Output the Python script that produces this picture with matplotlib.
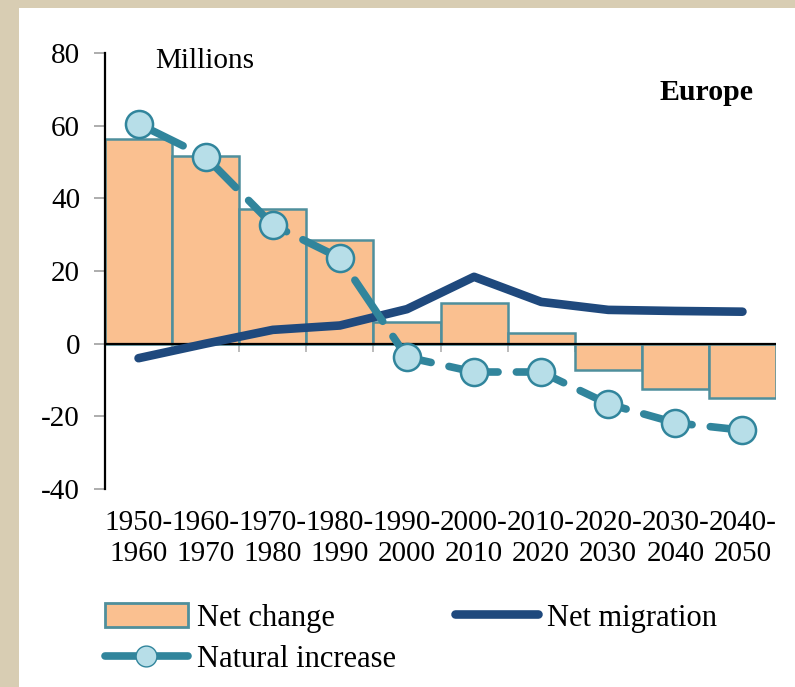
import matplotlib
matplotlib.use("Agg")
import matplotlib.pyplot as plt
from matplotlib.patches import Rectangle
from matplotlib.lines import Line2D
import numpy as np

plt.rcParams['font.family'] = ['Liberation Serif', 'DejaVu Serif']
plt.rcParams['axes.unicode_minus'] = False

periods = ["1950-\n1960", "1960-\n1970", "1970-\n1980", "1980-\n1990", "1990-\n2000",
           "2000-\n2010", "2010-\n2020", "2020-\n2030", "2030-\n2040", "2040-\n2050"]
net_change = [56.3, 51.6, 37.0, 28.5, 6.0, 11.2, 3.0, -7.2, -12.5, -15.0]
natural_increase = [60.5, 51.4, 32.7, 23.6, -3.7, -7.8, -7.8, -16.6, -21.8, -23.8]
net_migration = [-4.0, 0.0, 3.8, 5.0, 9.5, 18.4, 11.5, 9.3, 9.0, 8.8]
yticks = [-40, -20, 0, 20, 40, 60, 80]

bar_fill = "#fac090"
bar_edge = "#4f8f9c"
nat_col = "#31859c"
nat_face = "#b7dee8"
mig_col = "#1f497d"
FS = 21

fig = plt.figure(figsize=(7.95, 6.87), dpi=100)
fig.patch.set_facecolor("#d8cdb3")
fig.patches.append(Rectangle((19/795, 0), 1 - 19/795, 1 - 8/687, transform=fig.transFigure,
                             facecolor="white", edgecolor="none", zorder=-10))

ax = fig.add_axes([105/795, 1 - 489/687, 671/795, 436/687])
ax.set_facecolor("none")
x = np.arange(len(periods))

ax.bar(x, net_change, width=1.0, color=bar_fill, edgecolor=bar_edge, linewidth=1.8, zorder=2)
ax.axhline(0, color="black", lw=1.6, zorder=3)
# category boundary ticks below the zero line
bounds = np.arange(len(periods) + 1) - 0.5
ax.vlines(bounds[1:-1], -2.2, 0, color="#b0b0b0", lw=1.2, zorder=1)

ax.plot(x, net_migration, color=mig_col, lw=6.2, solid_capstyle="round",
        solid_joinstyle="round", zorder=4)
ax.plot(x, natural_increase, color=nat_col, lw=5.5, dashes=(6.5, 2.4), dash_capstyle="round",
        marker="o", markersize=19.5, markerfacecolor=nat_face, markeredgecolor=nat_col,
        markeredgewidth=1.8, zorder=5)

ax.set_xlim(-0.5, len(periods) - 0.5)
ax.set_ylim(-40, 80)
ax.set_yticks(yticks)
ax.set_yticklabels([str(v) for v in yticks])
ax.set_xticks(x)
ax.set_xticklabels(periods, fontsize=FS, linespacing=1.28)
ax.tick_params(axis="x", length=0, pad=15)
ax.tick_params(axis="y", length=8, color="#a0a0a0", width=1.2, labelsize=FS, pad=10)
for s in ["top", "right", "bottom"]:
    ax.spines[s].set_visible(False)
ax.spines["left"].set_color("black")
ax.spines["left"].set_linewidth(1.6)

ax.text(0.075, 0.982, "Millions", transform=ax.transAxes, fontsize=FS,
        ha="left", va="center")
ax.text(0.967, 0.91, "Europe", transform=ax.transAxes, fontsize=FS + 0.5, fontweight="bold",
        ha="right", va="center")

h_bar = Rectangle((0, 0), 1, 1, facecolor=bar_fill, edgecolor=bar_edge, linewidth=2.0)
h_nat = Line2D([], [], color=nat_col, lw=5.5, marker="o", markersize=15,
               markerfacecolor=nat_face, markeredgecolor=nat_col, solid_capstyle="round")
h_mig = Line2D([], [], color=mig_col, lw=6.2, solid_capstyle="round")
leg = fig.legend([h_bar, h_nat, h_mig], ["Net change", "Natural increase", "Net migration"],
                 ncol=2, loc="upper left", bbox_to_anchor=(105/795, 1 - 603/687),
                 frameon=False, fontsize=22, handlelength=2.7, handleheight=0.85,
                 handletextpad=0.3, columnspacing=1.95, labelspacing=0.38, borderaxespad=0,
                 borderpad=0)

fig.savefig("out.png", dpi=100)
